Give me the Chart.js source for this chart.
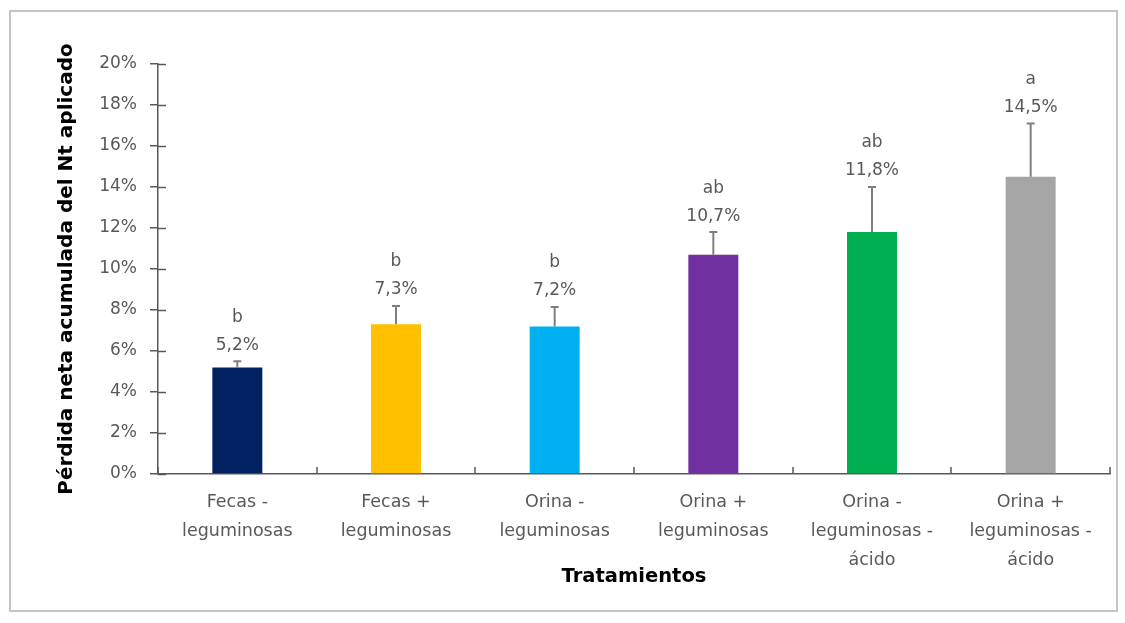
<!DOCTYPE html>
<html>
<head>
<meta charset="utf-8">
<script src="https://cdn.jsdelivr.net/npm/chart.js@4.4.1/dist/chart.umd.min.js"></script>
<style>
  html, body { margin: 0; padding: 0; background: #fff; }
  #wrap { position: absolute; left: 0; top: 0; width: 1125px; height: 623px; }
</style>
</head>
<body>
<div id="wrap"><canvas id="grafico"></canvas></div>
<script>
const tratamientos = [
  ['Fecas -', 'leguminosas'],
  ['Fecas +', 'leguminosas'],
  ['Orina -', 'leguminosas'],
  ['Orina +', 'leguminosas'],
  ['Orina -', 'leguminosas -', 'ácido'],
  ['Orina +', 'leguminosas -', 'ácido']
];
const perdida = [5.2, 7.3, 7.2, 10.7, 11.8, 14.5];
const errorSup = [0.3, 0.9, 0.95, 1.1, 2.2, 2.6];
const letras = ['b', 'b', 'b', 'ab', 'ab', 'a'];
const colores = ['#002060', '#FFC000', '#00B0F0', '#7030A0', '#00B050', '#A5A5A5'];
const ticksY = [0, 2, 4, 6, 8, 10, 12, 14, 16, 18, 20];

const fuente = '"DejaVu Sans", sans-serif';
const gris = '#595959';

// marco, marcas interiores de los ejes, barras de error y etiquetas
const extras = {
  id: 'extras',
  beforeDraw(chart) {
    const c = chart.ctx;
    c.save();
    c.strokeStyle = '#c4c4c4';
    c.lineWidth = 2;
    c.strokeRect(10, 11, 1107, 600);
    c.restore();
  },
  afterDatasetsDraw(chart) {
    const c = chart.ctx;
    const x = chart.scales.x, y = chart.scales.y;
    c.save();
    c.strokeStyle = gris;
    c.lineWidth = 1.5;
    ticksY.forEach(v => {
      const py = Math.round(y.getPixelForValue(v)) + 0.5;
      c.beginPath(); c.moveTo(x.left, py); c.lineTo(x.left + 8, py); c.stroke();
    });
    for (let i = 0; i <= tratamientos.length; i++) {
      const px = Math.round(x.getPixelForValue(i - 0.5));
      c.beginPath(); c.moveTo(px, y.bottom); c.lineTo(px, y.bottom - 7); c.stroke();
    }
    const meta = chart.getDatasetMeta(0);
    c.strokeStyle = '#7f7f7f';
    c.lineWidth = 2;
    meta.data.forEach((bar, i) => {
      const top = y.getPixelForValue(perdida[i] + errorSup[i]);
      const base = y.getPixelForValue(perdida[i]);
      c.beginPath();
      c.moveTo(bar.x, base); c.lineTo(bar.x, top);
      c.moveTo(bar.x - 4, top); c.lineTo(bar.x + 4, top);
      c.stroke();
      c.fillStyle = gris;
      c.font = '17px ' + fuente;
      c.textAlign = 'center';
      c.textBaseline = 'middle';
      const txt = perdida[i].toFixed(1).replace('.', ',') + '%';
      c.fillText(txt, bar.x, top - 16);
      c.fillText(letras[i], bar.x, top - 44);
    });
    c.restore();
  }
};

new Chart(document.getElementById('grafico'), {
  type: 'bar',
  data: {
    labels: tratamientos,
    datasets: [{
      data: perdida,
      backgroundColor: colores,
      borderWidth: 0,
      barPercentage: 0.63,
      categoryPercentage: 0.5
    }]
  },
  options: {
    responsive: true,
    maintainAspectRatio: false,
    animation: false,
    layout: { padding: { left: 50, top: 64, right: 15, bottom: 20 } },
    plugins: {
      legend: { display: false },
      tooltip: { enabled: false }
    },
    scales: {
      x: {
        afterFit: s => { s.height = 129; },
        grid: { display: false },
        border: { display: true, color: gris, width: 1.5 },
        ticks: {
          color: gris,
          padding: 6,
          maxRotation: 0,
          autoSkip: false,
          font: { family: fuente, size: 17.5, lineHeight: 1.66 }
        },
        title: {
          display: true,
          text: 'Tratamientos',
          color: '#000',
          padding: { top: 0, bottom: 14 },
          font: { family: fuente, size: 19.5, weight: 'bold' }
        }
      },
      y: {
        min: 0,
        max: 20,
        afterFit: s => { s.width = 108; },
        afterBuildTicks: s => { s.ticks = ticksY.map(v => ({ value: v })); },
        grid: {
          drawOnChartArea: false,
          drawTicks: true,
          tickLength: 8,
          color: gris,
          lineWidth: 1.5
        },
        border: { display: true, color: gris, width: 1.5 },
        ticks: {
          color: gris,
          padding: 13,
          font: { family: fuente, size: 17 },
          callback: v => v + '%'
        },
        title: {
          display: true,
          text: 'Pérdida neta acumulada del Nt aplicado',
          color: '#000',
          padding: { top: 5, bottom: 0 },
          font: { family: fuente, size: 20, weight: 'bold' }
        }
      }
    }
  },
  plugins: [extras]
});
</script>
</body>
</html>
